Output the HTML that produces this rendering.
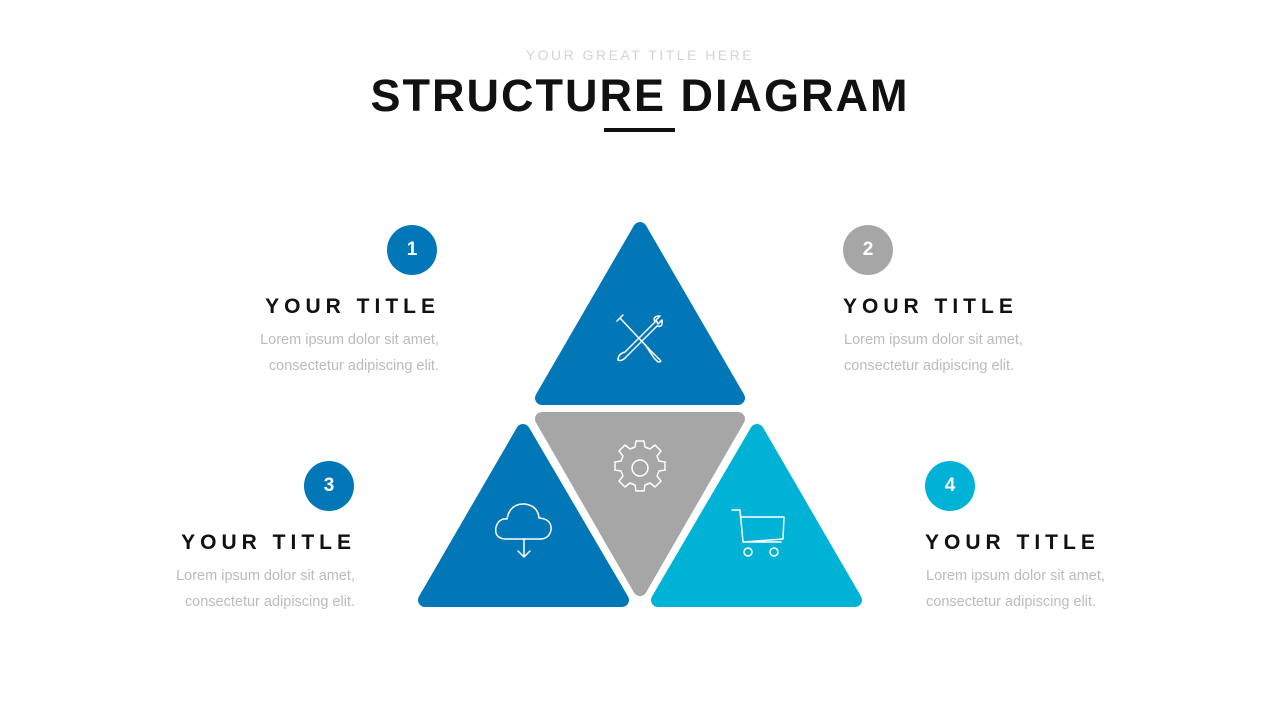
<!DOCTYPE html>
<html><head><meta charset="utf-8"><style>
body{margin:0;width:1280px;height:720px;background:#fff;font-family:"Liberation Sans",sans-serif;position:relative;overflow:hidden}
.a{position:absolute}
.sub{top:47px;left:0;width:1280px;text-align:center;font-size:14px;letter-spacing:2.5px;color:#d4d4d4}
.h{top:70px;left:0;width:1280px;text-align:center;font-size:45px;font-weight:bold;letter-spacing:2px;color:#111}
.bar{top:128px;left:604px;width:71px;height:4px;background:#111}
.c{width:50px;height:50px;border-radius:50%;color:#fff;font-weight:bold;font-size:19px;text-align:center;line-height:50px}
.t{font-size:21px;font-weight:bold;letter-spacing:5px;color:#111}
.p{font-size:14.5px;color:#bbb;line-height:26px}
.r{text-align:right}
</style></head><body>
<div class="a sub">YOUR GREAT TITLE HERE</div>
<div class="a h">STRUCTURE DIAGRAM</div>
<div class="a bar"></div>

<div class="a c" style="left:387px;top:225px;background:#0277b7">1</div>
<div class="a t r" style="left:200px;width:240px;top:295px">YOUR TITLE</div>
<div class="a p r" style="left:180px;width:259px;top:327px">Lorem ipsum dolor sit amet,<br>consectetur adipiscing elit.</div>

<div class="a c" style="left:843px;top:225px;background:#a6a6a6">2</div>
<div class="a t" style="left:843px;top:295px">YOUR TITLE</div>
<div class="a p" style="left:844px;top:327px">Lorem ipsum dolor sit amet,<br>consectetur adipiscing elit.</div>

<div class="a c" style="left:304px;top:461px;background:#0277b7">3</div>
<div class="a t r" style="left:110px;width:246px;top:531px">YOUR TITLE</div>
<div class="a p r" style="left:96px;width:259px;top:563px">Lorem ipsum dolor sit amet,<br>consectetur adipiscing elit.</div>

<div class="a c" style="left:925px;top:461px;background:#00b2d6">4</div>
<div class="a t" style="left:925px;top:531px">YOUR TITLE</div>
<div class="a p" style="left:926px;top:563px">Lorem ipsum dolor sit amet,<br>consectetur adipiscing elit.</div>

<svg class="a" style="left:0;top:0" width="1280" height="720">
<g stroke-linejoin="round" stroke-width="14">
<polygon points="640,229 738,398 542,398" fill="#0277b7" stroke="#0277b7"/>
<polygon points="542,419 738,419 640,589" fill="#a6a6a6" stroke="#a6a6a6"/>
<polygon points="523,431 622,600 425,600" fill="#0277b7" stroke="#0277b7"/>
<polygon points="757,431 855,600 658,600" fill="#00b2d6" stroke="#00b2d6"/>
</g>
<g fill="none" stroke="#fff" stroke-width="1.5" stroke-linecap="round" stroke-linejoin="round">
<path d="M620,318 L650,350 M617,321 L623,315 M646,346 L660,360 Q662,362 658,362 L654,358 Z"/>
<path d="M655,322 L625,352 Q618,354 618,360 Q622,362 627,356 L657,326 Q663,328 662,320 L658,324 L656,320 L660,316 Q652,316 655,322"/>
<circle cx="640" cy="468" r="8"/>
<path d="M636,441 h8 l1,6 l5,2 l5,-4 l6,6 l-4,5 l2,5 l6,1 v8 l-6,1 l-2,5 l4,5 l-6,6 l-5,-4 l-5,2 l-1,6 h-8 l-1,-6 l-5,-2 l-5,4 l-6,-6 l4,-5 l-2,-5 l-6,-1 v-8 l6,-1 l2,-5 l-4,-5 l6,-6 l5,4 l5,-2 z"/>
<path d="M505,539 Q494,538 496,527 Q499,518 507,519 Q510,503 525,504 Q538,506 539,518 Q552,519 551,530 Q549,539 540,539 Z"/>
<path d="M524,539 V557 M518,551 L524,557 L530,551"/>
<path d="M732,510 h8 l3,32 h38 M742,517 h42 l-1,22 l-39,3"/>
<circle cx="748" cy="552" r="4"/><circle cx="774" cy="552" r="4"/>
</g>
</svg>
</body></html>
